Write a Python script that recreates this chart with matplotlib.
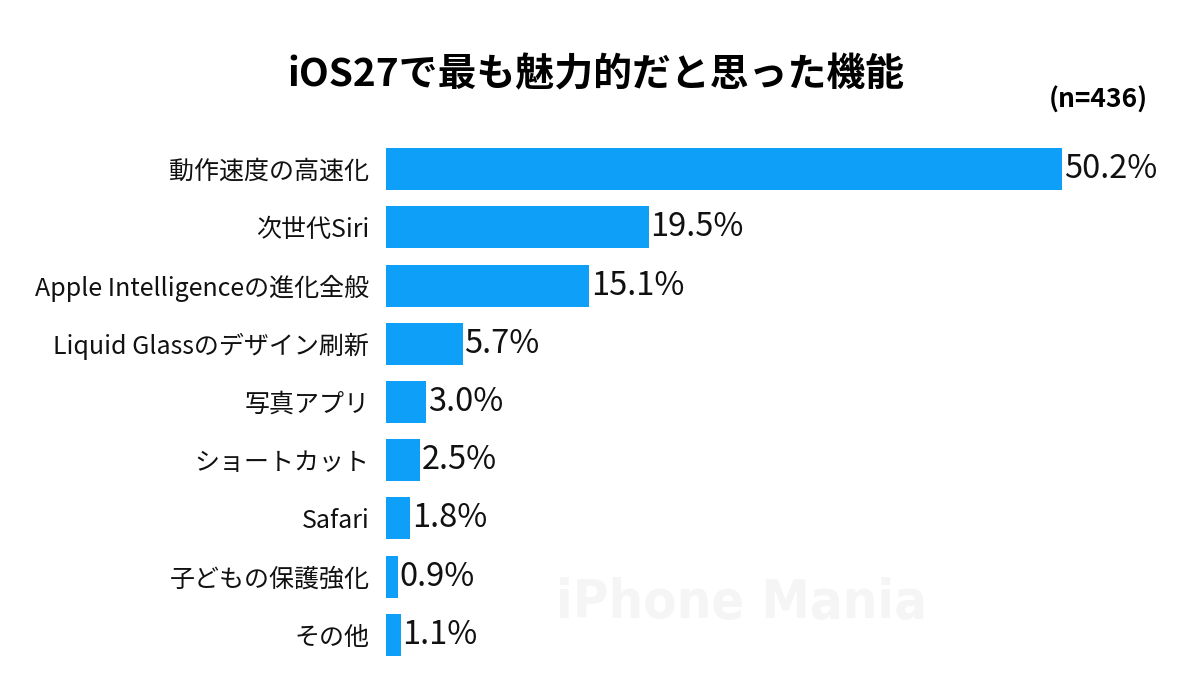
import matplotlib
matplotlib.use("Agg")
import matplotlib.pyplot as plt

plt.rcParams['font.family'] = ['Noto Sans CJK JP', 'DejaVu Sans']

# data
categories = ["動作速度の高速化", "次世代Siri", "Apple Intelligenceの進化全般",
              "Liquid Glassのデザイン刷新", "写真アプリ", "ショートカット",
              "Safari", "子どもの保護強化", "その他"]
values = [50.2, 19.5, 15.1, 5.7, 3.0, 2.5, 1.8, 0.9, 1.1]
title = "iOS27で最も魅力的だと思った機能"
sample_note = "(n=436)"

bar_color = "#0E9FF8"

fig = plt.figure(figsize=(12, 6.75), dpi=100)
ax = fig.add_axes([386 / 1200, 11 / 675, 808 / 1200, 524 / 675])

y = list(range(len(categories)))
ax.barh(y, values, height=0.72, color=bar_color)
ax.set_xlim(0, 60)
ax.set_ylim(len(categories) - 0.5, -0.5)

for yi, v in zip(y, values):
    ax.text(v + 0.12, yi, f"{v}%", va="center", ha="left", fontsize=23.5, color="#111111")

ax.set_yticks(y)
ax.set_yticklabels(categories, fontsize=18, color="#111111")
ax.tick_params(axis="y", length=0, pad=12)
ax.set_xticks([])
for s in ax.spines.values():
    s.set_visible(False)

fig.text(0.497, 1 - 75 / 675, title, ha="center", va="center", fontsize=28, fontweight="bold")
fig.text(1098 / 1200, 1 - 100 / 675, sample_note, ha="center", va="center", fontsize=19, fontweight="bold")

# watermark
fig.text(742 / 1200, 1 - 603 / 675, "iPhone Mania", ha="center", va="center", fontsize=39,
         fontweight="bold", color="#f5f5f5", family="DejaVu Sans", fontstretch="condensed", zorder=0)

fig.savefig("out.png", dpi=100)
